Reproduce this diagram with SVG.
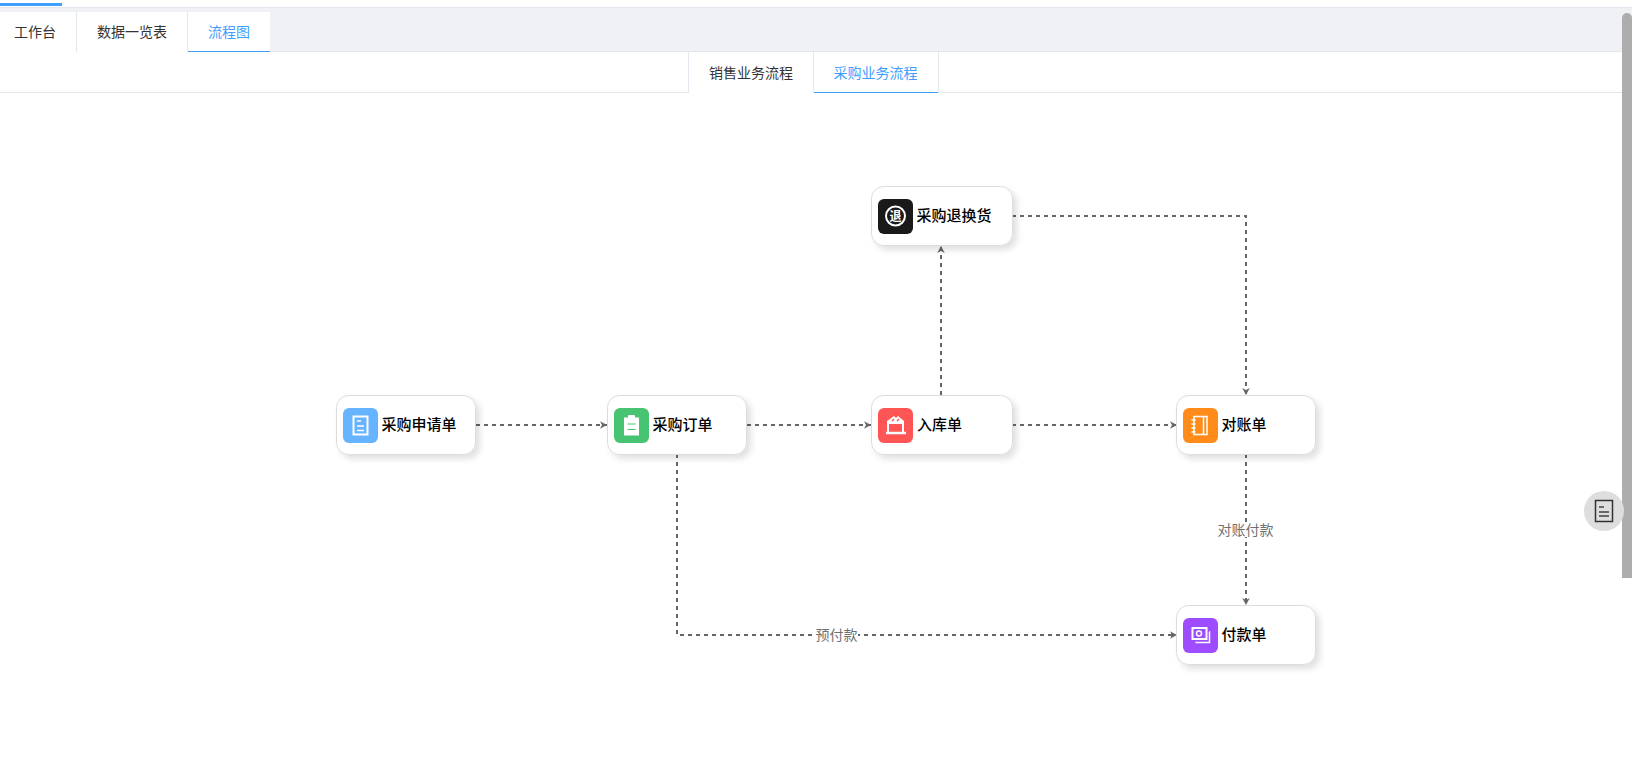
<svg xmlns="http://www.w3.org/2000/svg" width="1632" height="764" viewBox="0 0 1632 764">
<style>
text{font-family:"Noto Sans CJK SC","Liberation Sans",sans-serif}
.tab{font-size:14px;fill:#333;text-anchor:middle}
.on{fill:#409eff}
.sep{stroke:#e4e7ed;stroke-width:1;fill:none}
.blue{fill:#409eff}
.box{fill:#fff;stroke:#dcdcdc;stroke-width:1;filter:url(#sh)}
.nt{font-size:15px;font-weight:500;fill:#000}
.ic{fill:none;stroke:#fff;stroke-width:2}
.icf{fill:#fff}
.e{fill:none;stroke:#666;stroke-width:2;stroke-dasharray:4 4;marker-end:url(#ah)}
.lb{font-size:14px;fill:#707070;text-anchor:middle}
</style>
<defs>
<filter id="sh" x="-20%" y="-30%" width="150%" height="170%"><feDropShadow dx="4" dy="4" stdDeviation="3" flood-color="#000" flood-opacity=".12"/></filter>
<marker id="ah" markerUnits="userSpaceOnUse" markerWidth="10" markerHeight="10" refX="8" refY="5" orient="auto"><path d="M1 1.200L8 5L1 8.800L3 5Z" fill="#666"/></marker>
</defs>
<rect width="1632" height="764" fill="#fff"/>
<g id="header">
<rect x="0" y="3" width="62" height="3" class="blue"/>
<rect x="0" y="7" width="1632" height="45" fill="#eff1f5"/>
<rect x="0" y="7" width="1632" height="1" fill="#e4e7ed"/>
<rect x="0" y="51" width="1632" height="1" fill="#e4e7ed"/>
<rect x="0" y="12" width="76" height="40" fill="#fff"/>
<rect x="77" y="12" width="110" height="40" fill="#fff"/>
<rect x="188" y="12" width="82" height="40" fill="#fff"/>
<path class="sep" d="M76.500 12V52M187.500 12V51"/>
<rect x="188" y="51" width="82" height="1" class="blue"/>
<text class="tab" x="35" y="36.500">工作台</text>
<text class="tab" x="132" y="36.500">数据一览表</text>
<text class="tab on" x="229" y="36.500">流程图</text>
<rect x="0" y="92" width="1622" height="1" fill="#e4e7ed"/>
<rect x="689" y="52" width="249" height="41" fill="#fff"/>
<path class="sep" d="M688.500 52V92M813.500 52V92M938.500 52V92"/>
<rect x="814" y="92" width="124" height="1" class="blue"/>
<text class="tab" x="751" y="78">销售业务流程</text>
<text class="tab on" x="875.500" y="78">采购业务流程</text>
</g>
<g id="connectors">
<path class="e" d="M476 425H607"/>
<path class="e" d="M747 425H871"/>
<path class="e" d="M1012 425H1177"/>
<path class="e" d="M941 395V246"/>
<path class="e" d="M1012 216H1246V395"/>
<path class="e" d="M1246 454V605"/>
<path class="e" d="M677 454V635H1177"/>
<rect x="1218" y="522" width="56" height="15" fill="#fff"/>
<text class="lb" x="1245.500" y="535">对账付款</text>
<rect x="816" y="627" width="42" height="15" fill="#fff"/>
<text class="lb" x="836.500" y="640">预付款</text>
</g>
<g id="n1">
<rect class="box" x="336.500" y="395.500" width="139" height="59" rx="12"/>
<rect x="343" y="408" width="35" height="35" rx="6" fill="#66b3ff"/>
<path class="ic" d="M353.500 416.500h14v18h-14z"/>
<path d="M357 421h4M357 426h7M357 430.500h7" stroke="#fff" stroke-width="1.500"/>
<text class="nt" x="381.500" y="429.500">采购申请单</text>
</g>
<g id="n2">
<rect class="box" x="607.500" y="395.500" width="139" height="59" rx="12"/>
<rect x="614" y="408" width="35" height="35" rx="6" fill="#47c472"/>
<path class="icf" d="M624 417.500h4v-1.500a1 1 0 0 1 1-1h5a1 1 0 0 1 1 1v1.500h4v18h-15z"/>
<path d="M627.500 424h8M627.500 429.500h8" stroke="#47c472" stroke-width="1.200"/>
<text class="nt" x="652.500" y="429.500">采购订单</text>
</g>
<g id="n3">
<rect class="box" x="871.500" y="395.500" width="141" height="59" rx="12"/>
<rect x="878" y="408" width="35" height="35" rx="6" fill="#ff5555"/>
<path class="icf" d="M887 424V421L894 416L896 418L898 416L904 421V424z"/>
<path class="ic" d="M888 424V432M903 424V432"/>
<path d="M886 433h20" stroke="#fff" stroke-width="2.500"/>
<path d="M892 421l2-2M897 421l2-2" stroke="#ff5555" stroke-width="1.500"/>
<text class="nt" x="917" y="429.500">入库单</text>
</g>
<g id="n4">
<rect class="box" x="871.500" y="186.500" width="141" height="59" rx="12"/>
<rect x="878" y="199" width="35" height="35" rx="6" fill="#1a1a1a"/>
<circle class="ic" cx="895.500" cy="216" r="9.500"/>
<text x="895.500" y="220.500" font-size="12" font-weight="700" fill="#fff" text-anchor="middle">退</text>
<text class="nt" x="916.500" y="220.500">采购退换货</text>
</g>
<g id="n5">
<rect class="box" x="1176.500" y="395.500" width="139" height="59" rx="12"/>
<rect x="1183" y="408" width="35" height="35" rx="6" fill="#ff8c1a"/>
<path d="M1194 416.500h13v18h-13zM1203.500 417v17" fill="none" stroke="#fff" stroke-width="1.500"/>
<path d="M1191.500 420h4M1191.500 424h4M1191.500 428h4M1191.500 432h4" stroke="#fff" stroke-width="1.500"/>
<text class="nt" x="1221.500" y="429.500">对账单</text>
</g>
<g id="n6">
<rect class="box" x="1176.500" y="605.500" width="139" height="59" rx="12"/>
<rect x="1183" y="618" width="35" height="35" rx="6" fill="#9d4dff"/>
<path d="M1192.500 628h14v11h-14z" fill="none" stroke="#fff" stroke-width="2"/>
<circle cx="1199" cy="633.500" r="2.500" fill="none" stroke="#fff" stroke-width="1.500"/>
<path d="M1209 632h0.500V642.500h-14" fill="none" stroke="#fff" stroke-width="1.500"/>
<text class="nt" x="1221.500" y="639.500">付款单</text>
</g>
<g id="scrollbar"><path d="M1622 578V18a5 5 0 0 1 10 0V578z" fill="#adadad"/></g>
<g id="float">
<circle cx="1604" cy="511" r="20" fill="#dedede"/>
<rect x="1595.500" y="500.500" width="17" height="21" fill="none" stroke="#333" stroke-width="1.500"/>
<path d="M1599 507h5M1599 512h10M1599 516h10" stroke="#444" stroke-width="1.500"/>
</g>
</svg>
